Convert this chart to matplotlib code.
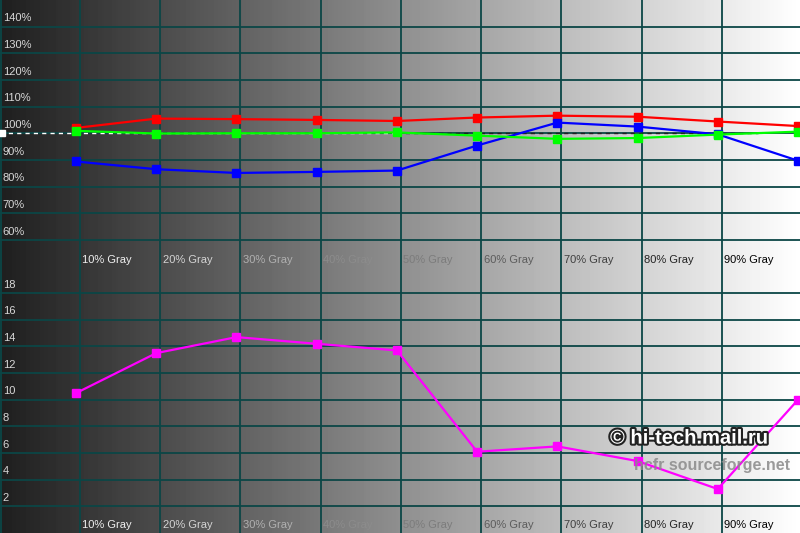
import numpy as np
import matplotlib.pyplot as plt
import matplotlib.patheffects as pe

# datos
gray = [10, 20, 30, 40, 50, 60, 70, 80, 90, 100]
red = [102.0, 105.5, 105.3, 105.0, 104.6, 105.9, 106.6, 106.2, 104.4, 102.7]
green = [100.9, 99.9, 100.0, 100.0, 100.3, 99.1, 97.9, 98.2, 99.5, 100.6]
blue = [89.4, 86.5, 85.1, 85.5, 86.0, 95.4, 104.0, 102.5, 99.6, 89.7]
delta_e = [10.5, 13.5, 14.7, 14.2, 13.7, 6.1, 6.5, 5.4, 3.3, 10.0]

cat_labels = ['10% Gray', '20% Gray', '30% Gray', '40% Gray', '50% Gray',
              '60% Gray', '70% Gray', '80% Gray', '90% Gray']
cat_colors = ['#f0f0f0', '#d4d4d4', '#b0b0b0', '#8c8c8c', '#7c7c7c',
              '#5c5c5c', '#404040', '#222222', '#000000']
pct_ticks = [60, 70, 80, 90, 100, 110, 120, 130, 140]
de_ticks = [2, 4, 6, 8, 10, 12, 14, 16, 18]

grid_c = '#0b4646'
font = 'Liberation Sans'

fig = plt.figure(figsize=(8, 5.33), dpi=100)

# fondo degradado
bg = fig.add_axes([0, 0, 1, 1])
grad = np.linspace(0.12, 1.0, 400).reshape(1, -1)
bg.imshow(grad, cmap='gray', vmin=0, vmax=1, aspect='auto', extent=[0, 1, 0, 1])
bg.set_axis_off()

xl = (0.52, 100.25)
vgrid = np.arange(10.5, 100, 10)


def setup(ax, ylo, yhi, hticks):
    ax.set_xlim(*xl)
    ax.set_ylim(ylo, yhi)
    ax.patch.set_alpha(0)
    for s in ax.spines.values():
        s.set_visible(False)
    ax.set_xticks([])
    ax.set_yticks([])
    for x in vgrid:
        ax.axvline(x, color=grid_c, lw=1.3, zorder=1)
    ax.axvline(xl[0] + 0.1, color=grid_c, lw=1.3, zorder=1)
    for y in hticks:
        ax.axhline(y, color=grid_c, lw=1.3, zorder=1)


top = fig.add_axes([0, 0.5, 1, 0.5])
setup(top, 50, 150, pct_ticks)
bot = fig.add_axes([0, 0, 1, 0.5])
setup(bot, 0, 20, de_ticks)

# linea de referencia 100%
top.plot([xl[0], 50], [100, 100], color='white', lw=1, ls=(0, (3, 3)), zorder=2)
top.plot([50, 95], [100, 100], color='#202020', lw=1, ls=(0, (3, 3)), zorder=2)
top.plot([xl[0] + 0.3], [100], marker='s', ms=4, color='white', zorder=2, clip_on=False)

mk = dict(marker='s', ms=6, lw=1.6, zorder=3, clip_on=False)
top.plot(gray, red, color='#ff0000', **mk)
top.plot(gray, blue, color='#0000ff', **mk)
top.plot(gray, green, color='#00ff00', **mk)
bot.plot(gray, delta_e, color='#ff00ff', **mk)

for t in pct_ticks:
    top.text(0.85, t + 1.2, f'{t}%', color='#d8d8d8', fontsize=8, family=font,
             va='bottom', ha='left')
for t in de_ticks:
    bot.text(0.85, t + 0.25, f'{t}', color='#d8d8d8', fontsize=8, family=font,
             va='bottom', ha='left')

for i, (lab, c) in enumerate(zip(cat_labels, cat_colors)):
    top.text(vgrid[i] + 0.3, 52.5, lab, color=c, fontsize=8, family=font,
             va='center', ha='left')
    bot.text(vgrid[i] + 0.3, 0.6, lab, color=c, fontsize=8, family=font,
             va='center', ha='left')

# marcas de agua
fig.text(0.7625, 0.178, '\u00a9 hi-tech.mail.ru', color='white', fontsize=14.5,
         family=font, weight='bold', va='center', ha='left',
         path_effects=[pe.withStroke(linewidth=3, foreground='#222222')])
fig.text(0.793, 0.126, 'hcfr sourceforge.net', color='#8a8a8a', fontsize=11.5,
         family=font, weight='bold', va='center', ha='left', alpha=0.85)

fig.savefig('out.png', dpi=100)
